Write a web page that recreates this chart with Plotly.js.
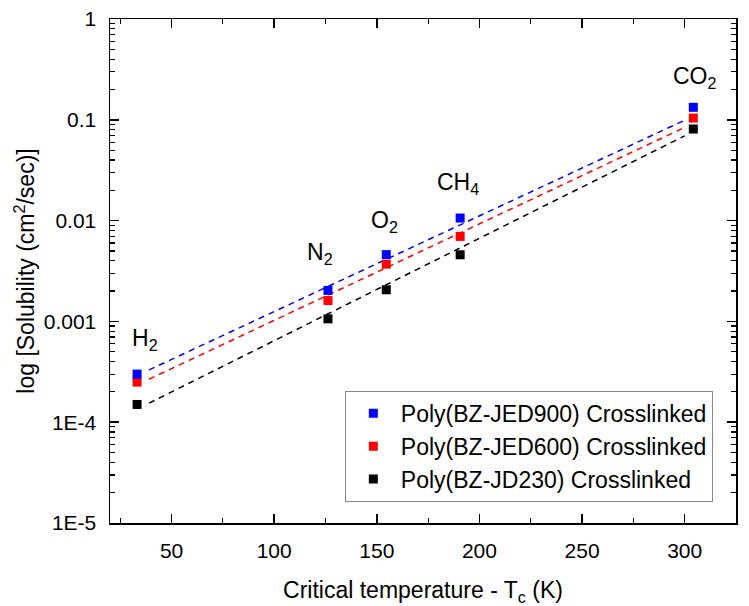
<!DOCTYPE html>
<html>
<head>
<meta charset="utf-8">
<script src="https://cdn.plot.ly/plotly-3.0.1.min.js"></script>
<style>html,body{margin:0;padding:0;background:#fff;}#plot{width:749px;height:606px;}</style>
</head>
<body>
<div id="plot"></div>
<script>
// Data
const gases = ['H<sub>2</sub>', 'N<sub>2</sub>', 'O<sub>2</sub>', 'CH<sub>4</sub>', 'CO<sub>2</sub>'];
const tc = [33.2, 126.2, 154.6, 190.6, 304.2];
const jed900 = [3.0e-4, 2.03e-3, 4.6e-3, 1.06e-2, 0.133];
const jed600 = [2.5e-4, 1.61e-3, 3.7e-3, 6.97e-3, 0.104];
const jd230 = [1.5e-4, 1.06e-3, 2.06e-3, 4.58e-3, 0.081];
const fitT = [39, 300];
const fit900 = [3.30e-4, 0.0991];
const fit600 = [2.67e-4, 0.0841];
const fit230 = [1.545e-4, 0.0693];
const seriesNames = ['Poly(BZ-JED900) Crosslinked', 'Poly(BZ-JED600) Crosslinked', 'Poly(BZ-JD230) Crosslinked'];
const yTickVals = [1e-5, 1e-4, 1e-3, 1e-2, 1e-1, 1];
const yTickText = ['1E-5', '1E-4', '0.001', '0.01', '0.1', '1'];

const colors = ['#0000ff', '#ff0000', '#000000'];
const FONT = 'Arial, "Liberation Sans", sans-serif';

const seriesVals = [jed900, jed600, jd230];
const fitVals = [fit900, fit600, fit230];

const traces = [];
for (let i = 0; i < 3; i++) {
  traces.push({
    x: fitT, y: fitVals[i], type: 'scatter', mode: 'lines',
    line: {color: colors[i], width: 1.5, dash: '6px,5px'},
    showlegend: false, hoverinfo: 'skip'
  });
}
for (let i = 2; i >= 0; i--) {
  traces.push({
    x: tc, y: seriesVals[i], type: 'scatter', mode: 'markers',
    name: seriesNames[i],
    marker: {symbol: 'square', size: 9, color: colors[i]}
  });
}

// label offsets (px) relative to the top series point
const labelDx = [8, -8, -2, -2, 2];
const labelDy = [18, 20, 17, 18, 13];
const annotations = gases.map((g, i) => ({
  x: tc[i], y: Math.log10(jed900[i]), xref: 'x', yref: 'y',
  text: g, showarrow: false, xanchor: 'center', yanchor: 'bottom',
  xshift: labelDx[i], yshift: labelDy[i],
  font: {family: FONT, size: 23, color: '#000'}
}));

const layout = {
  width: 749, height: 606,
  margin: {l: 110, r: 13, t: 19, b: 83},
  paper_bgcolor: '#fff', plot_bgcolor: '#fff',
  font: {family: FONT, color: '#000'},
  showlegend: true,
  legend: {
    x: 0.963, y: 0.042, xanchor: 'right', yanchor: 'bottom',
    bgcolor: '#fff', bordercolor: '#888', borderwidth: 1,
    font: {family: FONT, size: 23, color: '#000'},
    traceorder: 'reversed', itemwidth: 45
  },
  xaxis: {
    range: [20, 325], tick0: 0, dtick: 50,
    showline: true, linecolor: '#000', linewidth: 1.5, mirror: 'ticks',
    ticks: 'inside', ticklen: 9, tickwidth: 1.5, tickcolor: '#000',
    ticklabelstandoff: 8,
    minor: {dtick: 25, ticks: 'inside', ticklen: 5, tickwidth: 1.2, tickcolor: '#000', showgrid: false},
    showgrid: false, zeroline: false,
    tickfont: {family: FONT, size: 21, color: '#000'},
    title: {text: 'Critical temperature - T<sub>c</sub> (K)', font: {family: FONT, size: 23, color: '#000'}, standoff: 23}
  },
  yaxis: {
    type: 'log', range: [-5, 0],
    tickmode: 'array', tickvals: yTickVals, ticktext: yTickText,
    showline: true, linecolor: '#000', linewidth: 1.5, mirror: 'ticks',
    ticks: 'inside', ticklen: 9, tickwidth: 1.5, tickcolor: '#000',
    ticklabelstandoff: 8,
    minor: {dtick: 'D1', ticks: 'inside', ticklen: 5, tickwidth: 1.2, tickcolor: '#000', showgrid: false},
    showgrid: false, zeroline: false,
    tickfont: {family: FONT, size: 21, color: '#000'},
    title: {text: 'log [Solubility (cm<sup>2</sup>/sec)]', font: {family: FONT, size: 23, color: '#000'}, standoff: 2}
  },
  annotations: annotations
};

Plotly.newPlot('plot', traces, layout, {displayModeBar: false, staticPlot: true});
</script>
</body>
</html>
